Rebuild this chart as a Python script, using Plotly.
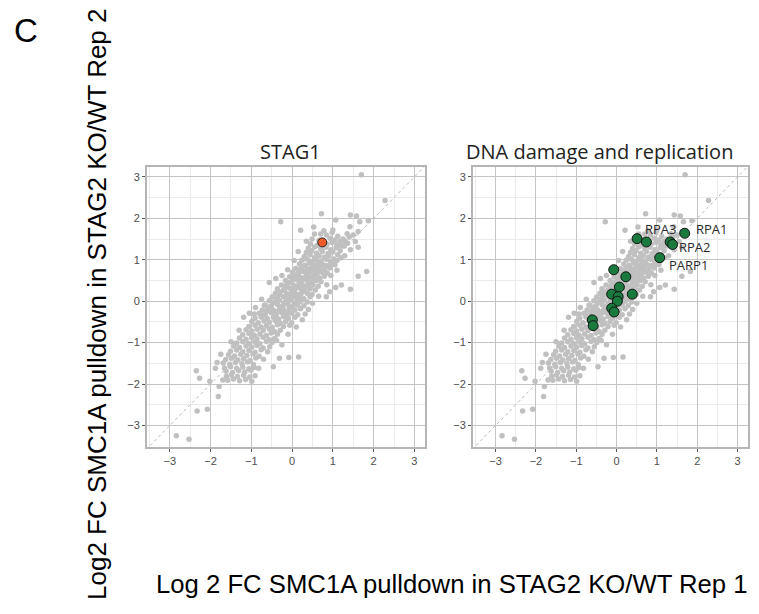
import plotly.graph_objects as go

# ---------------- data ----------------
# background proteins (same cloud in both panels): (Rep1 log2FC, Rep2 log2FC)
gray_outliers = [
    (1.70, 3.05), (2.28, 2.43), (0.72, 2.11), (-0.28, 1.92), (0.21, 1.71), (0.53, 1.79),
    (1.07, 1.96), (1.43, 2.08), (1.58, 2.06), (1.87, 1.94), (1.66, 1.92), (1.42, 1.80),
    (1.62, 1.68), (1.50, 1.60), (1.25, 1.50), (1.23, 1.34), (1.43, 1.24), (1.29, 1.10),
    (1.83, 0.72), (1.62, 0.60), (1.43, 0.29), (1.21, 0.39), (1.07, 0.33), (0.84, 0.11),
    (0.92, 0.23), (-0.56, 0.45), (-0.11, 0.76), (0.32, -0.31), (0.16, -1.35), (-0.08, -1.36),
    (-0.31, -1.38), (-0.46, -1.58), (-1.19, -0.39), (-1.05, -0.29), (-0.93, -0.31), (-0.68, -0.10),
    (-2.35, -1.68), (-2.27, -1.86), (-2.02, -1.93), (-1.84, -1.48), (-1.79, -2.06), (-1.81, -2.30),
    (-2.08, -2.61), (-2.33, -2.65), (-2.84, -3.25), (-2.53, -3.33), (-1.41, -1.03),
]

gray_core = [
    (0.55, 1.62), (0.84, 1.60), (0.98, 1.66), (1.12, 1.57), (1.35, 1.63),
    (0.49, 1.50), (0.66, 1.47), (0.93, 1.52), (1.05, 1.48), (1.18, 1.45), (1.36, 1.40), (1.55, 1.44),
    (0.45, 1.38), (0.62, 1.35), (0.86, 1.38), (0.98, 1.42), (1.10, 1.36), (1.28, 1.33), (1.62, 1.30),
    (0.40, 1.28), (0.55, 1.31), (0.70, 1.26), (0.83, 1.30), (0.95, 1.24), (1.08, 1.29), (1.18, 1.22),
    (0.35, 1.18), (0.48, 1.22), (0.60, 1.16), (0.74, 1.20), (0.88, 1.15), (1.00, 1.19), (1.12, 1.12),
    (0.30, 1.08), (0.44, 1.12), (0.55, 1.05), (0.66, 1.10), (0.79, 1.06), (0.90, 1.09), (1.02, 1.02),
    (0.24, 0.99), (0.36, 1.02), (0.49, 0.96), (0.59, 1.00), (0.71, 0.97), (0.84, 1.01), (0.96, 0.95), (1.10, 0.98),
    (0.18, 0.90), (0.31, 0.87), (0.43, 0.92), (0.54, 0.86), (0.64, 0.91), (0.76, 0.88), (0.89, 0.85), (1.00, 0.90),
    (0.09, 0.79), (0.24, 0.82), (0.37, 0.77), (0.47, 0.81), (0.58, 0.78), (0.69, 0.83), (0.80, 0.76), (0.93, 0.80),
    (0.01, 0.70), (0.14, 0.67), (0.28, 0.72), (0.41, 0.68), (0.51, 0.71), (0.61, 0.66), (0.73, 0.70), (0.86, 0.68),
    (-0.06, 0.59), (0.09, 0.62), (0.21, 0.57), (0.34, 0.61), (0.44, 0.58), (0.54, 0.62), (0.67, 0.56), (0.79, 0.60),
    (-0.16, 0.50), (-0.01, 0.47), (0.11, 0.52), (0.24, 0.48), (0.37, 0.51), (0.47, 0.46), (0.59, 0.50), (0.71, 0.47),
    (-0.26, 0.39), (-0.11, 0.42), (0.04, 0.38), (0.17, 0.41), (0.29, 0.37), (0.39, 0.42), (0.51, 0.39), (0.64, 0.36),
    (-0.36, 0.30), (-0.21, 0.27), (-0.06, 0.31), (0.07, 0.28), (0.19, 0.32), (0.31, 0.26), (0.44, 0.30), (0.57, 0.27),
    (-0.41, 0.19), (-0.29, 0.22), (-0.13, 0.18), (-0.01, 0.21), (0.11, 0.17), (0.24, 0.22), (0.37, 0.19), (0.49, 0.16),
    (-0.49, 0.10), (-0.36, 0.07), (-0.21, 0.11), (-0.09, 0.08), (0.04, 0.12), (0.17, 0.09), (0.29, 0.06), (0.44, 0.11),
    (-0.56, 0.01), (-0.43, -0.02), (-0.31, 0.02), (-0.16, -0.01), (-0.03, 0.03), (0.09, -0.03), (0.21, 0.00), (0.37, -0.02),
    (-0.66, -0.09), (-0.51, -0.12), (-0.36, -0.08), (-0.23, -0.11), (-0.11, -0.07), (0.01, -0.12), (0.14, -0.09), (0.29, -0.11),
    (-0.73, -0.21), (-0.59, -0.18), (-0.46, -0.22), (-0.31, -0.19), (-0.19, -0.23), (-0.06, -0.17), (0.07, -0.21), (0.21, -0.18),
    (-0.81, -0.29), (-0.66, -0.32), (-0.51, -0.28), (-0.39, -0.31), (-0.26, -0.27), (-0.13, -0.32), (-0.01, -0.29), (0.14, -0.33),
    (-0.91, -0.41), (-0.76, -0.38), (-0.61, -0.42), (-0.46, -0.39), (-0.33, -0.43), (-0.21, -0.37), (-0.09, -0.41), (0.07, -0.39),
    (-0.99, -0.49), (-0.83, -0.52), (-0.69, -0.48), (-0.56, -0.51), (-0.41, -0.47), (-0.29, -0.53), (-0.16, -0.49), (-0.01, -0.52),
    (-1.06, -0.61), (-0.91, -0.58), (-0.76, -0.62), (-0.63, -0.59), (-0.49, -0.63), (-0.36, -0.57), (-0.21, -0.61), (-0.06, -0.58),
    (-1.13, -0.69), (-0.99, -0.72), (-0.86, -0.68), (-0.71, -0.71), (-0.56, -0.67), (-0.43, -0.73), (-0.29, -0.70),
    (-1.21, -0.81), (-1.06, -0.78), (-0.93, -0.82), (-0.79, -0.79), (-0.63, -0.83), (-0.51, -0.77), (-0.36, -0.80),
    (-1.29, -0.89), (-1.13, -0.92), (-0.99, -0.88), (-0.86, -0.91), (-0.71, -0.87), (-0.56, -0.93), (-0.43, -0.90),
    (-1.36, -1.01), (-1.21, -0.98), (-1.06, -1.02), (-0.91, -0.99), (-0.79, -1.03), (-0.63, -0.97), (-0.49, -1.00),
    (-1.43, -1.09), (-1.29, -1.12), (-1.13, -1.08), (-0.99, -1.11), (-0.86, -1.07), (-0.71, -1.13),
    (-1.51, -1.21), (-1.36, -1.18), (-1.21, -1.22), (-1.06, -1.19), (-0.91, -1.23), (-0.76, -1.17),
    (-1.56, -1.29), (-1.41, -1.32), (-1.26, -1.28), (-1.11, -1.31), (-0.96, -1.27), (-0.81, -1.33),
    (-1.63, -1.41), (-1.49, -1.38), (-1.33, -1.42), (-1.19, -1.39), (-1.03, -1.43), (-0.89, -1.37), (-0.70, -1.40),
    (-1.69, -1.49), (-1.53, -1.52), (-1.39, -1.48), (-1.23, -1.51), (-1.09, -1.47), (-0.95, -1.53),
    (-1.66, -1.61), (-1.51, -1.58), (-1.36, -1.62), (-1.21, -1.59), (-1.06, -1.63), (-0.93, -1.60),
    (-1.62, -1.69), (-1.46, -1.72), (-1.31, -1.68), (-1.16, -1.71), (-1.01, -1.67),
    (-1.61, -1.81), (-1.49, -1.78), (-1.34, -1.82), (-1.19, -1.79), (-1.04, -1.83), (-0.91, -1.80),
    (-1.58, -1.91), (-1.44, -1.88), (-1.29, -1.92), (-1.14, -1.89), (-0.99, -1.93),
]

gray_fill = [
    (0.42, 0.97), (0.68, 0.96), (0.94, 0.96),
    (0.33, 0.86), (0.60, 0.87), (0.84, 0.86),
    (0.19, 0.76), (0.46, 0.75), (0.67, 0.76),
    (0.16, 0.66), (0.39, 0.65), (0.60, 0.63),
    (0.04, 0.56), (0.29, 0.55), (0.51, 0.56),
    (-0.05, 0.46), (0.20, 0.45), (0.43, 0.46),
    (-0.16, 0.36), (0.12, 0.35), (0.35, 0.36),
    (-0.19, 0.26), (0.03, 0.25), (0.29, 0.26),
    (-0.31, 0.16), (-0.04, 0.15), (0.21, 0.16),
    (-0.38, 0.06), (-0.12, 0.05), (0.13, 0.06),
    (-0.47, -0.04), (-0.20, -0.05), (0.06, -0.06),
    (-0.55, -0.14), (-0.27, -0.15), (-0.02, -0.16),
    (-0.62, -0.24), (-0.35, -0.25), (-0.09, -0.26),
    (-0.71, -0.34), (-0.42, -0.35), (-0.16, -0.36),
    (-1.75, -1.28), (-1.88, -1.62), (-1.70, -1.90), (-0.82, -1.62), (-0.60, -1.22), (-0.55, -1.10),
    (-0.38, -0.95), (-1.50, -0.98), (-1.30, -0.70), (-0.90, -0.15), (-0.75, 0.05), (-0.40, 0.55),
    (-0.25, 0.62), (0.05, 0.98), (0.15, 1.20), (0.35, 1.45), (0.70, 1.62), (1.10, 0.75),
    (0.95, 0.62), (0.85, 0.40), (0.65, 0.12), (0.50, -0.05), (0.40, -0.20), (0.25, -0.45),
    (0.10, -0.62), (-0.10, -0.80), (-0.25, -1.05), (1.00, 1.72), (0.78, 1.70), (1.30, 1.45),
    (1.15, 1.35), (1.40, 1.55), (1.20, 1.05), (1.05, 0.88),
]

stag1_x = [0.74]
stag1_y = [1.42]

dna_names = ["RPA3", "", "RPA1", "", "RPA2", "PARP1", "", "", "", "", "", "", "", "", "", "", ""]
dna_x = [0.51, 0.74, 1.69, 1.33, 1.39, 1.07, -0.07, 0.23, 0.07, -0.12, 0.39, 0.04, 0.02, -0.12, -0.06, -0.60, -0.58]
dna_y = [1.51, 1.43, 1.64, 1.43, 1.37, 1.05, 0.76, 0.59, 0.34, 0.17, 0.17, 0.11, 0.00, -0.17, -0.26, -0.45, -0.59]
# label offsets (data units) from the labelled point
label_dx = {"RPA3": 0.15, "RPA1": 0.24, "RPA2": 0.11, "PARP1": 0.17}
label_dy = {"RPA3": 0.24, "RPA1": 0.11, "RPA2": -0.06, "PARP1": -0.18}

tick_vals = [-3, -2, -1, 0, 1, 2, 3]
x_range = [-3.56, 3.26]
y_range = [-3.52, 3.24]

panel_titles = ["STAG1", "DNA damage and replication"]
x_title = "Log 2 FC SMC1A pulldown in STAG2 KO/WT Rep 1"
y_title = "Log2 FC SMC1A pulldown in STAG2 KO/WT Rep 2"

# ---------------- figure ----------------
W, H = 759, 614
all_gray = gray_outliers + gray_core + gray_fill
gx = [p[0] for p in all_gray]
gy = [p[1] for p in all_gray]

fig = go.Figure()
for xa, ya in [("x", "y"), ("x2", "y2")]:
    fig.add_trace(go.Scatter(x=[-4, 4], y=[-4, 4], mode="lines", xaxis=xa, yaxis=ya,
                             line=dict(color="#b8b8b8", width=1, dash="dot"), hoverinfo="skip"))
    fig.add_trace(go.Scatter(x=gx, y=gy, mode="markers", xaxis=xa, yaxis=ya,
                             marker=dict(size=5.5, color="#c0c0c0", line=dict(width=0))))

fig.add_trace(go.Scatter(x=stag1_x, y=stag1_y, mode="markers", xaxis="x", yaxis="y",
                         marker=dict(size=9, color="#f05a28", line=dict(width=1, color="#222222"))))
fig.add_trace(go.Scatter(x=dna_x, y=dna_y, mode="markers", xaxis="x2", yaxis="y2",
                         marker=dict(size=10, color="#1a7a3e", line=dict(width=1, color="#111111"))))

axis_common = dict(
    tickmode="array", tickvals=tick_vals, showgrid=True, gridcolor="#c4c4c4", gridwidth=1.3,
    minor=dict(tickmode="array", tickvals=[-3.5, -2.5, -1.5, -0.5, 0.5, 1.5, 2.5], showgrid=True,
               gridcolor="#ebebeb", gridwidth=1, ticks=""),
    zeroline=False, showline=True, mirror=True, linecolor="#b5b5b5", linewidth=2,
    ticks="outside", ticklen=3, tickcolor="#555555", tickwidth=1,
    tickfont=dict(family="Liberation Sans, Arial", size=11, color="#4d4d4d"),
)

xd1 = [147 / W, 425 / W]
xd2 = [473 / W, 748 / W]
yd = [1 - 447 / H, 1 - 167 / H]

fig.update_layout(
    width=W, height=H, margin=dict(l=0, r=0, t=0, b=0),
    paper_bgcolor="white", plot_bgcolor="white", showlegend=False,
    xaxis=dict(axis_common, range=x_range, domain=xd1, anchor="y"),
    yaxis=dict(axis_common, range=y_range, domain=yd, anchor="x"),
    xaxis2=dict(axis_common, range=x_range, domain=xd2, anchor="y2"),
    yaxis2=dict(axis_common, range=y_range, domain=yd, anchor="x2"),
)

ann = []
for name, x, y in zip(dna_names, dna_x, dna_y):
    if name:
        ann.append(dict(x=x + label_dx[name], y=y + label_dy[name], xref="x2", yref="y2",
                        text=name, showarrow=False, xanchor="left", yanchor="middle",
                        font=dict(family="Open Sans", size=13, color="#2a2a2a")))

title_centers = [290, 599]
for t, cx in zip(panel_titles, title_centers):
    ann.append(dict(x=cx / W, y=1 - 151 / H, xref="paper", yref="paper", text=t, showarrow=False,
                    xanchor="center", yanchor="middle", font=dict(family="Open Sans", size=20, color="#222222")))

ann.append(dict(x=26 / W, y=1 - 30 / H, xref="paper", yref="paper", text="C", showarrow=False,
                xanchor="center", yanchor="middle", font=dict(family="Liberation Sans, Arial", size=33, color="black")))
ann.append(dict(x=97 / W, y=1 - 304 / H, xref="paper", yref="paper", text=y_title, showarrow=False,
                textangle=-90, xanchor="center", yanchor="middle",
                font=dict(family="Liberation Sans, Arial", size=26, color="black")))
ann.append(dict(x=452 / W, y=1 - 584 / H, xref="paper", yref="paper", text=x_title, showarrow=False,
                xanchor="center", yanchor="middle",
                font=dict(family="Liberation Sans, Arial", size=25.7, color="black")))
fig.update_layout(annotations=ann)

fig.write_html("out.html")
